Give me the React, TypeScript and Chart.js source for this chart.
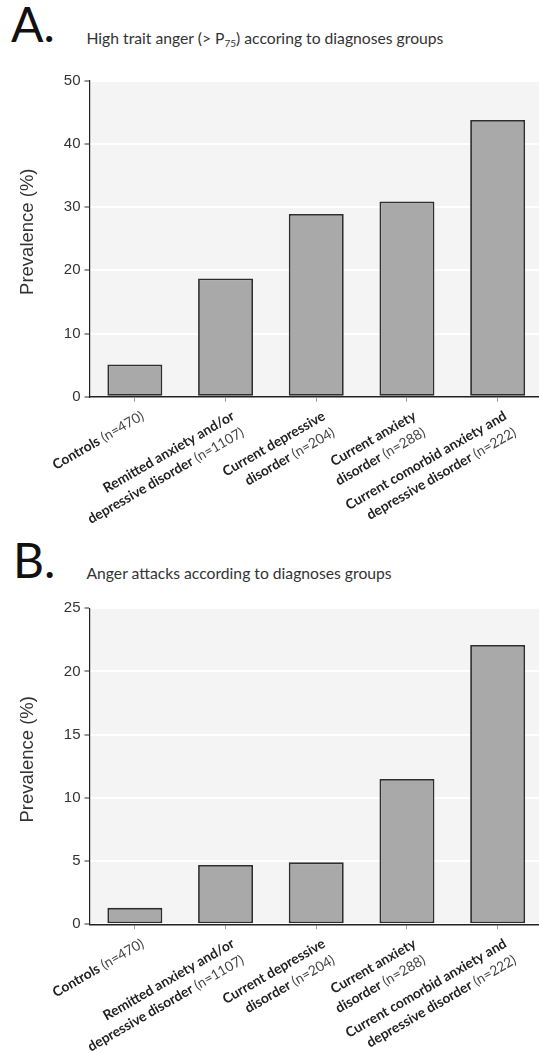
import React, { useEffect, useRef } from 'react';
import { Chart, registerables } from 'chart.js';

Chart.register(...registerables);

// ---------- data ----------
const categoryLines: string[][] = [
  ['Controls'],
  ['Remitted anxiety and/or', 'depressive disorder'],
  ['Current depressive', 'disorder'],
  ['Current anxiety', 'disorder'],
  ['Current comorbid anxiety and', 'depressive disorder'],
];
const groupSizes = ['(n=470)', '(n=1107)', '(n=204)', '(n=288)', '(n=222)'];

const highTraitAnger = [5.1, 18.7, 28.9, 30.9, 43.8];
const angerAttacks = [1.3, 4.7, 4.9, 11.5, 22.1];

const ticksA = [0, 10, 20, 30, 40, 50];
const ticksB = [0, 5, 10, 15, 20, 25];

const yTitle = 'Prevalence (%)';

// ---------- styling ----------
const LABEL_FAMILY = 'Lato';
const LABEL_SIZE = 13.8;
const LABEL_LINE = 19;
const LABEL_ANGLE = (-30 * Math.PI) / 180;

const plotBackground = {
  id: 'plotBackground',
  beforeDraw(chart: any) {
    const { ctx, chartArea: a } = chart;
    ctx.save();
    ctx.fillStyle = '#f4f4f4';
    ctx.fillRect(a.left, a.top, a.right - a.left, a.bottom - a.top);
    ctx.restore();
  },
};

const yAxisTitle = {
  id: 'yAxisTitle',
  afterDraw(chart: any) {
    const { ctx, chartArea } = chart;
    ctx.save();
    ctx.translate(28, (chartArea.top + chartArea.bottom) / 2 - 7);
    ctx.rotate(-Math.PI / 2);
    ctx.font = '18.5px "Liberation Sans"';
    ctx.fillStyle = '#333';
    ctx.textAlign = 'center';
    ctx.textBaseline = 'middle';
    ctx.fillText(yTitle, 0, 0);
    ctx.restore();
  },
};

const rotatedLabels = {
  id: 'rotatedLabels',
  afterDraw(chart: any) {
    const { ctx, chartArea } = chart;
    const xs = chart.scales.x;
    categoryLines.forEach((lines, i) => {
      const px = xs.getPixelForValue(i);
      ctx.save();
      ctx.translate(px + 10, chartArea.bottom + 22);
      ctx.rotate(LABEL_ANGLE);
      ctx.textAlign = 'right';
      ctx.textBaseline = 'alphabetic';
      lines.forEach((line, j) => {
        const y = j * LABEL_LINE;
        let offset = 0;
        if (j === lines.length - 1) {
          ctx.font = `${LABEL_SIZE}px ${LABEL_FAMILY}`;
          ctx.fillStyle = '#444';
          const n = ' ' + groupSizes[i];
          ctx.fillText(n, 0, y);
          offset = ctx.measureText(n).width;
        }
        ctx.font = `bold ${LABEL_SIZE}px ${LABEL_FAMILY}`;
        ctx.fillStyle = '#222';
        ctx.fillText(line, -offset, y);
      });
      ctx.restore();
    });
  },
};

function makeConfig(values: number[], ticks: number[], padTop: number, xHeight: number) {
  return {
    type: 'bar' as const,
    data: {
      labels: categoryLines.map((l) => l.join(' ')),
      datasets: [
        {
          data: values,
          backgroundColor: '#a9a9a9',
          borderColor: '#2e2e2e',
          borderWidth: 1.8,
          borderSkipped: false as const,
          barPercentage: 0.606,
          categoryPercentage: 1,
        },
      ],
    },
    options: {
      responsive: false,
      animation: false as const,
      layout: { padding: { top: padTop, right: 0, bottom: 0, left: 0 } },
      plugins: { legend: { display: false }, tooltip: { enabled: false } },
      scales: {
        x: {
          z: 1,
          ticks: { display: false },
          grid: {
            display: true,
            drawOnChartArea: false,
            drawTicks: true,
            tickLength: 5,
            tickColor: '#999',
            tickWidth: 1,
            offset: false,
          },
          border: { display: true, color: '#222', width: 1.5 },
          afterFit: (s: any) => {
            s.height = xHeight;
          },
        },
        y: {
          min: ticks[0],
          max: ticks[ticks.length - 1],
          ticks: {
            stepSize: ticks[1] - ticks[0],
            color: '#333',
            font: { family: 'Liberation Sans', size: 15 },
            padding: 4,
          },
          grid: {
            color: '#ffffff',
            lineWidth: 2,
            tickColor: '#333',
            tickLength: 5,
            tickWidth: 1,
          },
          border: { display: true, color: '#222', width: 1.2 },
          title: { display: false, text: yTitle },
          afterFit: (s: any) => {
            s.width = 89.5;
          },
        },
      },
    },
    plugins: [plotBackground, rotatedLabels, yAxisTitle],
  };
}

function BarPanel(props: { values: number[]; ticks: number[]; top: number; height: number; padTop: number; xHeight: number }) {
  const ref = useRef<HTMLCanvasElement | null>(null);
  useEffect(() => {
    if (!ref.current) return;
    const chart = new Chart(ref.current, makeConfig(props.values, props.ticks, props.padTop, props.xHeight) as any);
    return () => chart.destroy();
  }, []);
  return (
    <canvas
      ref={ref}
      width={543}
      height={props.height}
      style={{ position: 'absolute', left: 0, top: props.top, width: 543, height: props.height, display: 'block' }}
    />
  );
}

const letterStyle: React.CSSProperties = {
  position: 'absolute',
  fontFamily: 'Lato',
  fontSize: 48,
  lineHeight: '48px',
  color: '#111',
  whiteSpace: 'nowrap',
};
const titleStyle: React.CSSProperties = {
  position: 'absolute',
  fontFamily: 'Lato',
  fontSize: 15.7,
  lineHeight: '15.7px',
  color: '#333',
  whiteSpace: 'nowrap',
};

export default function App() {
  return (
    <div style={{ position: 'absolute', left: 0, top: 0, width: 539, height: 1054, overflow: 'hidden', background: '#fff' }}>
      <div style={{ ...letterStyle, left: 11, top: 0 }}>A.</div>
      <div style={{ ...titleStyle, left: 86.5, top: 31.1 }}>
        High trait anger (&gt; P
        <span style={{ fontSize: 10, position: 'relative', top: 3 }}>75</span>) accoring to diagnoses groups
      </div>
      <BarPanel values={highTraitAnger} ticks={ticksA} top={60} height={470} padTop={20.7} xHeight={133.3} />

      <div style={{ ...letterStyle, left: 13, top: 536 }}>B.</div>
      <div style={{ ...titleStyle, left: 86.5, top: 566.1 }}>Anger attacks according to diagnoses groups</div>
      <BarPanel values={angerAttacks} ticks={ticksB} top={590} height={464} padTop={18.3} xHeight={129.7} />
    </div>
  );
}
